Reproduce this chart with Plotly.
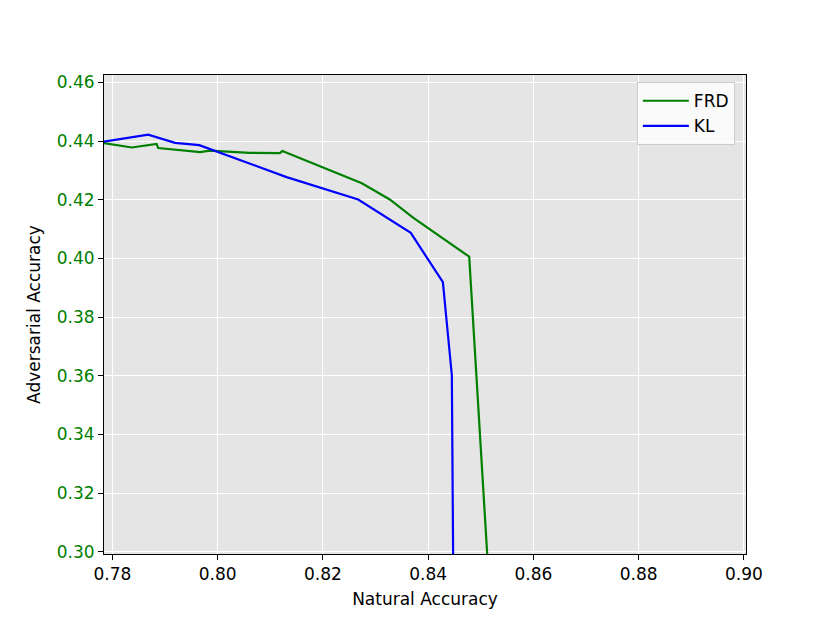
import plotly.graph_objects as go

# values
frd_x = [0.7780, 0.7837, 0.7884, 0.7887, 0.7967, 0.7985, 0.8061, 0.8118, 0.8123,
         0.8274, 0.8327, 0.8372, 0.8478, 0.8517]
frd_y = [0.4394, 0.4378, 0.4390, 0.4376, 0.4362, 0.4367, 0.4360, 0.4359, 0.4366,
         0.4256, 0.4201, 0.4138, 0.4006, 0.2850]

kl_x = [0.7780, 0.7868, 0.7919, 0.7965, 0.8131, 0.8267, 0.8367, 0.8428, 0.8445, 0.8448]
kl_y = [0.4397, 0.4422, 0.4394, 0.4386, 0.4277, 0.4201, 0.4087, 0.3919, 0.3602, 0.2850]

x_ticks = [0.78, 0.80, 0.82, 0.84, 0.86, 0.88, 0.90]
y_ticks = [0.30, 0.32, 0.34, 0.36, 0.38, 0.40, 0.42, 0.44, 0.46]

FONT = "DejaVu Sans"
FS = 17

fig = go.Figure()
fig.add_trace(go.Scatter(x=frd_x, y=frd_y, mode="lines", name="FRD",
                         line=dict(color="#008000", width=2.2)))
fig.add_trace(go.Scatter(x=kl_x, y=kl_y, mode="lines", name="KL",
                         line=dict(color="#0000ff", width=2.2)))

axis_common = dict(
    showline=True, linecolor="black", linewidth=1, mirror=True,
    ticks="outside", ticklen=5, tickcolor="black", tickwidth=1,
    showgrid=True, gridcolor="white", gridwidth=1.3, zeroline=False,
)

fig.update_xaxes(
    range=[0.7784, 0.9004], tickvals=x_ticks,
    ticktext=[f"{v:.2f}" for v in x_ticks],
    tickfont=dict(family=FONT, size=FS, color="black"),
    title=dict(text="Natural Accuracy", font=dict(family=FONT, size=FS, color="black"),
               standoff=9),
    **axis_common,
)
fig.update_yaxes(
    range=[0.2993, 0.4625], tickvals=y_ticks,
    ticktext=[f"{v:.2f}" for v in y_ticks],
    tickfont=dict(family=FONT, size=FS, color="#008000"),
    title=dict(text="Adversarial Accuracy", font=dict(family=FONT, size=FS, color="black"),
               standoff=11),
    **axis_common,
)

# page body adds ~8px offset, so margins are shifted to compensate
fig.update_layout(
    width=830, height=623,
    margin=dict(l=96, r=92, t=67, b=77),
    plot_bgcolor="#e5e5e5", paper_bgcolor="white",
    font=dict(family=FONT, size=FS, color="black"),
    legend=dict(
        x=0.83, y=0.985, xanchor="left", yanchor="top",
        itemwidth=46, tracegroupgap=0,
        bgcolor="rgba(255,255,255,0.8)", bordercolor="#cccccc", borderwidth=1,
        font=dict(family=FONT, size=FS, color="black"),
    ),
)

fig.write_html("out.html")
